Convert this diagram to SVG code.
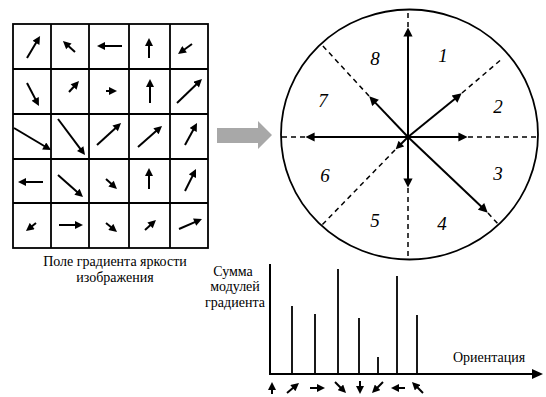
<svg xmlns="http://www.w3.org/2000/svg" width="546" height="397" viewBox="0 0 546 397">
<style>
.grid{fill:none;stroke:#000;stroke-width:1.8}
.arr{stroke:#000;stroke-width:2;fill:none;marker-end:url(#ah)}
.sp{stroke:#000;stroke-width:2;fill:none;marker-end:url(#ahb)}
.dash{stroke:#000;stroke-width:1.5;stroke-dasharray:5 4;fill:none}
.bar{stroke:#000;stroke-width:1.8}
.lbl{font-family:"Liberation Serif","DejaVu Serif","Times New Roman",serif;font-size:14px;fill:#000;text-anchor:middle}
.num{font-family:"Liberation Serif","DejaVu Serif","Times New Roman",serif;font-size:19px;font-style:italic;fill:#000;text-anchor:middle}
</style>
<defs>
<marker id="ah" viewBox="0 0 10 10" refX="5" refY="5" markerWidth="4.4" markerHeight="4" orient="auto" markerUnits="strokeWidth"><path d="M0,0 L10,5 L0,10 z" fill="#000"/></marker>
<marker id="ahb" viewBox="0 0 10 10" refX="5" refY="5" markerWidth="5.4" markerHeight="4.6" orient="auto" markerUnits="strokeWidth"><path d="M0,0 L10,5 L0,10 z" fill="#000"/></marker>
</defs>
<rect width="546" height="397" fill="#fff"/>

<g id="gradient-field">
<rect class="grid" x="13" y="24" width="195" height="224"/>
<path class="grid" d="M51,24V248M89,24V248M129,24V248M170,24V248M13,69H208M13,114H208M13,159H208M13,203H208"/>
<line class="arr" x1="27" y1="58" x2="38" y2="39.4"/>
<line class="arr" x1="75" y1="52" x2="65.9" y2="43.7"/>
<line class="arr" x1="122" y1="46" x2="101" y2="46"/>
<line class="arr" x1="149" y1="58" x2="149" y2="42"/>
<line class="arr" x1="192" y1="44" x2="181.3" y2="51.7"/>
<line class="arr" x1="27" y1="83" x2="37.1" y2="102.4"/>
<line class="arr" x1="69" y1="92" x2="76.3" y2="84"/>
<line class="arr" x1="106" y1="91" x2="113" y2="91"/>
<line class="arr" x1="150" y1="103" x2="150" y2="83"/>
<line class="arr" x1="177" y1="103" x2="199.1" y2="81.8"/>
<line class="arr" x1="14" y1="128" x2="47.6" y2="148"/>
<line class="arr" x1="58" y1="119" x2="82.6" y2="151.8"/>
<line class="arr" x1="97" y1="145" x2="118.1" y2="125.7"/>
<line class="arr" x1="138" y1="147" x2="159" y2="128.6"/>
<line class="arr" x1="185" y1="145" x2="195.1" y2="126.5"/>
<line class="arr" x1="43" y1="182" x2="22" y2="182"/>
<line class="arr" x1="58" y1="175" x2="80" y2="194.4"/>
<line class="arr" x1="106" y1="179" x2="114" y2="186.3"/>
<line class="arr" x1="149" y1="189" x2="149" y2="172"/>
<line class="arr" x1="185" y1="191" x2="194.2" y2="172.6"/>
<line class="arr" x1="36" y1="223" x2="29.1" y2="228.5"/>
<line class="arr" x1="59" y1="225" x2="79" y2="225"/>
<line class="arr" x1="106" y1="223" x2="113.9" y2="229.5"/>
<line class="arr" x1="145" y1="230" x2="153" y2="222.7"/>
<line class="arr" x1="179" y1="229" x2="198.3" y2="220.6"/>
<text class="lbl" x="115" y="266">Поле градиента яркости</text>
<text class="lbl" x="115" y="282">изображения</text>
</g>

<g id="big-arrow">
<polygon points="217,128 258,128 258,121 272,135 258,149 258,143 217,143" fill="#a8a8a8"/>
</g>

<g id="orientation-circle">
<ellipse cx="409.5" cy="134.5" rx="128.5" ry="125" fill="none" stroke="#000" stroke-width="1.8"/>
<text class="num" x="375" y="65">8</text>
<text class="num" x="443" y="62">1</text>
<text class="num" x="498" y="113">2</text>
<text class="num" x="323" y="107">7</text>
<text class="num" x="325" y="182">6</text>
<text class="num" x="498" y="180">3</text>
<text class="num" x="375" y="227">5</text>
<text class="num" x="442" y="230">4</text>
</g>

<g id="connectors">
<line class="dash" x1="408" y1="27" x2="408" y2="10"/>
<line class="dash" x1="408" y1="188" x2="408" y2="259"/>
<line class="dash" x1="305" y1="137" x2="281" y2="137"/>
<line class="dash" x1="468" y1="137" x2="538" y2="137"/>
<line class="dash" x1="462" y1="93" x2="503" y2="58"/>
<line class="dash" x1="369" y1="96" x2="322" y2="45"/>
<line class="dash" x1="488" y1="213" x2="498" y2="224"/>
<line class="dash" x1="395" y1="150" x2="322" y2="225"/>
<line class="sp" x1="408" y1="137" x2="408" y2="32"/>
<line class="sp" x1="408" y1="137" x2="408" y2="183"/>
<line class="sp" x1="408" y1="137" x2="310" y2="137"/>
<line class="sp" x1="408" y1="137" x2="463" y2="137"/>
<line class="sp" x1="408" y1="137" x2="458.1" y2="96.2"/>
<line class="sp" x1="408" y1="137" x2="372.4" y2="99.6"/>
<line class="sp" x1="408" y1="137" x2="484.4" y2="209.5"/>
<line class="arr" x1="408" y1="137" x2="398.5" y2="146.5"/>
</g>

<g id="histogram">
<line x1="270" y1="264" x2="270" y2="375" stroke="#000" stroke-width="2"/>
<line x1="269" y1="374" x2="533" y2="374" stroke="#000" stroke-width="2"/>
<polygon points="532,369 543,374 532,379" fill="#000"/>
<line class="bar" x1="292" y1="306" x2="292" y2="374"/>
<line class="bar" x1="315" y1="314" x2="315" y2="374"/>
<line class="bar" x1="338" y1="269" x2="338" y2="374"/>
<line class="bar" x1="359" y1="318" x2="359" y2="374"/>
<line class="bar" x1="378" y1="357" x2="378" y2="374"/>
<line class="bar" x1="397" y1="276" x2="397" y2="374"/>
<line class="bar" x1="417" y1="315" x2="417" y2="374"/>
<text class="lbl" x="233" y="276">Сумма</text>
<text class="lbl" x="235" y="291">модулей</text>
<text class="lbl" x="235" y="307">градиента</text>
<text class="lbl" x="489" y="362">Ориентация</text>
<line class="arr" x1="272" y1="394" x2="272" y2="386"/>
<line class="arr" x1="287" y1="393" x2="295.9" y2="385.6"/>
<line class="arr" x1="310" y1="388" x2="321" y2="388"/>
<line class="arr" x1="335" y1="382" x2="343.2" y2="390.2"/>
<line class="arr" x1="360" y1="381" x2="360" y2="390"/>
<line class="arr" x1="383" y1="382" x2="374.8" y2="390.2"/>
<line class="arr" x1="405" y1="388" x2="395" y2="388"/>
<line class="arr" x1="423" y1="393" x2="414.8" y2="384.8"/>
</g>
</svg>
